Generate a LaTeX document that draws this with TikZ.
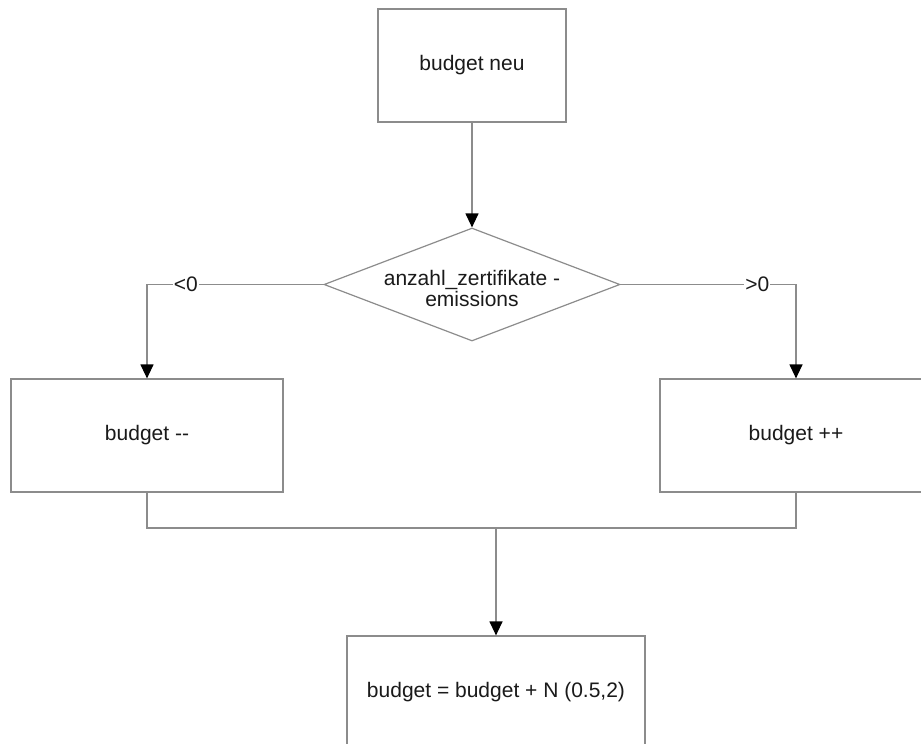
\documentclass[tikz,border=0pt]{standalone}
\usepackage{fontspec}
\setmainfont{Liberation Sans}
\usepackage{tikz}
\usetikzlibrary{arrows.meta,positioning,shapes.geometric}
\definecolor{flowGray}{HTML}{8C8C8C}
\definecolor{flowText}{HTML}{1A1A1A}

\begin{document}
\begin{tikzpicture}[x=1pt,y=-1pt,
        box/.style={draw=flowGray,line width=1.2pt,fill=white,minimum height=113pt,
        inner sep=0pt,align=center,text=flowText,font=\fontsize{21}{19}\selectfont},
        decision/.style={diamond,draw=flowGray,line width=1.2pt,fill=white,inner sep=0pt,
        minimum width=296pt,minimum height=113pt},
        line/.style={draw=flowGray,line width=1.2pt},
        arrow/.style={line,-{Triangle[length=14pt,width=13pt,black]}},
        cond/.style={fill=white,inner sep=1pt,text=flowText,font=\fontsize{21}{19}\selectfont}]
    \path[use as bounding box,clip] (0,0) rectangle (921,744);
    \node[box,minimum width=188pt] (neu) at (472,65.5) {budget neu};
    \node[decision,label={[align=center,text=flowText,font=\fontsize{21}{19}\selectfont,yshift=-4pt]center:anzahl\_zertifikate -\\emissions}] (diff) at (472,284.5) {};
    \node[box,minimum width=272pt] (minus) at (147,435.5) {budget -{}-};
    \node[box,minimum width=272pt] (plus) at (796,435.5) {budget ++};
    \node[box,minimum width=298pt] (update) at (496,692.5) {budget = budget + N (0.5,2)};
    \coordinate (merge) at (496,528);
    \draw[arrow] (neu) -- (diff.north);
    \draw[arrow] (diff.west) -| node[cond,pos=0.39] (lt) {<0} (minus.north);
    \draw[arrow] (diff.east) -| node[cond,pos=0.39] (gt) {>0} (plus.north);
    \draw[line] (minus.south) |- (merge) -| (plus.south);
    \draw[arrow] (merge) -- (update.north);
\end{tikzpicture}
\end{document}
